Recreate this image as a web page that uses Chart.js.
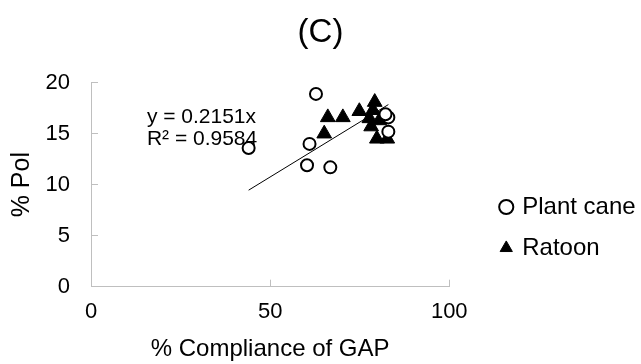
<!DOCTYPE html>
<html><head><meta charset="utf-8">
<script src="https://cdn.jsdelivr.net/npm/chart.js@4/dist/chart.umd.min.js"></script>
<style>html,body{margin:0;padding:0;background:#fff}#wrap{width:641px;height:364px}</style>
</head><body><div id="wrap"><canvas id="c" width="641" height="364"></canvas></div>
<script>
const chartTitle = '(C)';
const xAxisTitle = '% Compliance of GAP';
const yAxisTitle = '% Pol';
const seriesNames = ['Plant cane', 'Ratoon'];
const plantCaneX = [44.0, 62.8, 61.0, 60.3, 66.8, 83.0, 82.2, 83.0];
const plantCaneY = [13.6, 18.9, 14.0, 11.9, 11.7, 16.6, 16.9, 15.2];
const ratoonX = [65.1, 66.1, 70.3, 74.9, 79.2, 78.7, 77.7, 78.2, 80.5, 79.8, 82.7];
const ratoonY = [15.0, 16.6, 16.6, 17.2, 18.1, 17.3, 16.5, 15.7, 16.3, 14.5, 14.5];
const xTicks = [0, 50, 100];
const yTicks = [0, 5, 10, 15, 20];
const trendSlope = 0.2151;
const trendLabels = ['y = 0.2151x', 'R\u00b2 = 0.9584'];

const FONT = '"Liberation Sans", Arial, sans-serif';
const toPts = (xs, ys) => xs.map((v, i) => ({x: v, y: ys[i]}));
const allX = plantCaneX.concat(ratoonX);
const trendX = [Math.min(...allX), Math.max(...allX)];
const trendPts = trendX.map(v => ({x: v, y: trendSlope * v}));

const labelAnchor = {x: 15.6, y: 16.6};

const trendLabelPlugin = {
  id: 'trendLabel',
  afterDatasetsDraw(chart) {
    const {ctx, scales: {x, y}} = chart;
    ctx.save();
    ctx.font = '21px ' + FONT;
    ctx.fillStyle = '#000';
    ctx.textBaseline = 'middle';
    ctx.textAlign = 'left';
    const px = x.getPixelForValue(labelAnchor.x);
    const py = y.getPixelForValue(labelAnchor.y);
    trendLabels.forEach((t, i) => ctx.fillText(t, px, py + i * 22));
    ctx.restore();
  }
};
const legendOffsetPlugin = {
  id: 'legendOffset',
  afterLayout(chart) {
    const l = chart.legend;
    if (l) { l.left += 36; l.right += 36; l.top += 45.5; l.bottom += 45.5; }
    const t = chart.titleBlock;
    if (t) { t.right = chart.width; t.width = chart.width - t.left; }
  }
};

new Chart(document.getElementById('c'), {
  type: 'scatter',
  data: {
    datasets: [
      {label: seriesNames[0], data: toPts(plantCaneX, plantCaneY), pointStyle: 'circle',
       pointRadius: 6, borderWidth: 2, borderColor: '#000', backgroundColor: '#fff'},
      {label: seriesNames[1], data: toPts(ratoonX, ratoonY), pointStyle: 'triangle',
       pointRadius: 8.5, borderWidth: 1, borderColor: '#000', backgroundColor: '#000'},
      {label: 'trend', data: trendPts, showLine: true, pointRadius: 0, borderColor: '#000',
       borderWidth: 1, backgroundColor: '#000', order: -1}
    ]
  },
  options: {
    responsive: false, animation: false, devicePixelRatio: 1,
    layout: {padding: {left: 0, top: 0, bottom: 0, right: 42}},
    plugins: {
      tooltip: {enabled: false},
      title: {display: true, text: chartTitle, color: '#000', font: {family: FONT, size: 33, weight: 'normal'},
              padding: {top: 13.2, bottom: 29.9}},
      legend: {
        position: 'right',
        labels: {
          usePointStyle: true, boxWidth: 8, boxHeight: 10, padding: 17, color: '#000',
          font: {family: FONT, size: 24},
          filter: item => item.datasetIndex < 2
        }
      }
    },
    scales: {
      x: {
        type: 'linear', min: 0, max: 100,
        afterBuildTicks: s => { s.ticks = xTicks.map(v => ({value: v})); },
        afterFit: s => { s.height = 77.3; },
        grid: {drawOnChartArea: false, drawTicks: true, tickLength: -7, color: '#bfbfbf'},
        border: {display: true, color: '#bfbfbf', width: 1},
        ticks: {color: '#000', padding: 19, font: {family: FONT, size: 22}},
        title: {display: true, text: xAxisTitle, color: '#000', padding: 0, font: {family: FONT, size: 24}}
      },
      y: {
        type: 'linear', min: 0, max: 20,
        afterBuildTicks: s => { s.ticks = yTicks.map(v => ({value: v})); },
        afterFit: s => { s.width = 91; },
        grid: {drawOnChartArea: false, drawTicks: true, tickLength: -7, color: '#bfbfbf'},
        border: {display: true, color: '#bfbfbf', width: 1},
        ticks: {color: '#000', padding: 28, font: {family: FONT, size: 22}},
        title: {display: true, text: yAxisTitle, color: '#000', padding: {top: 7, bottom: 0}, font: {family: FONT, size: 25}}
      }
    }
  },
  plugins: [trendLabelPlugin, legendOffsetPlugin]
});
</script></body></html>
